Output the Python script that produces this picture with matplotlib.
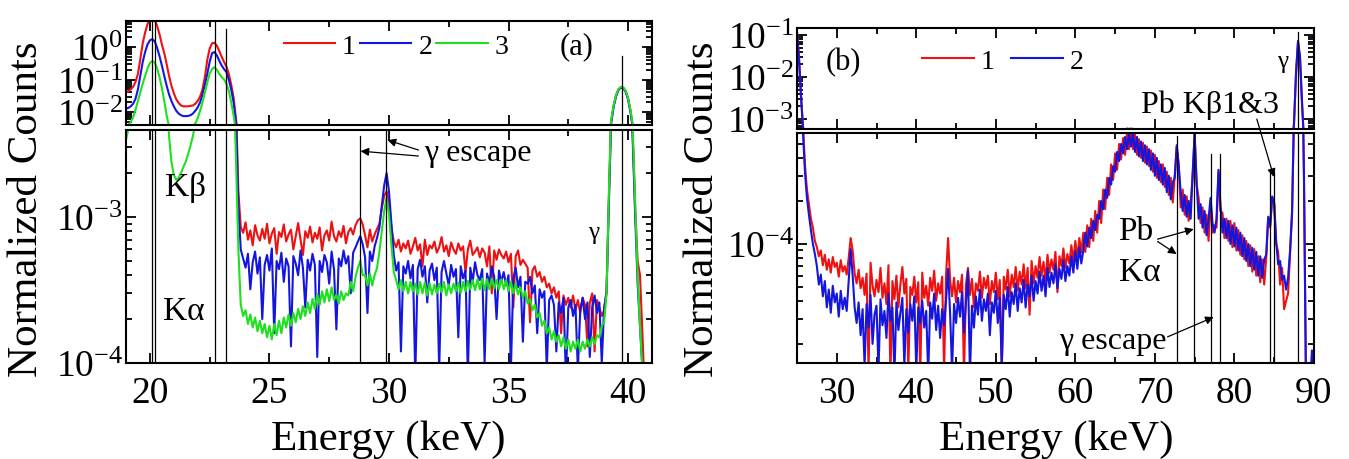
import matplotlib.pyplot as plt
import numpy as np
from matplotlib.ticker import LogLocator, NullFormatter, MultipleLocator, LogFormatterSciNotation

plt.rcParams['font.family'] = ['Liberation Serif', 'DejaVu Serif']
plt.rcParams['mathtext.fontset'] = 'stix'
plt.rcParams['axes.unicode_minus'] = False

# ---------------- panel (a): 19-41 keV, three spectra ----------------
energy_a = np.linspace(19.0, 41.0, 221)  # channel energies (keV)

counts_a1 = [
    0.041, 0.044, 0.05, 0.06, 0.085, 0.15, 0.43, 1.3, 2.8, 5.0,
    7.5, 8.5, 7.0, 4.5, 2.5, 1.2, 0.65, 0.3, 0.13, 0.065,
    0.038, 0.025, 0.019, 0.016, 0.015, 0.015, 0.015, 0.0155, 0.016, 0.018,
    0.022, 0.03, 0.05, 0.12, 0.4, 0.9, 1.3, 1.35, 1.1, 0.75,
    0.5, 0.35, 0.25, 0.15, 0.07, 0.028, 0.006, 0.0015,
    8.5e-4, 7.8e-4, 9.2e-4, 7.0e-4, 8.1e-4, 6.4e-4, 8.8e-4, 7.5e-4, 6.9e-4, 8.3e-4,
    7.1e-4, 9.0e-4, 6.6e-4, 7.7e-4, 8.4e-4, 5.6e-4, 7.9e-4, 7.3e-4, 8.9e-4, 6.8e-4,
    7.6e-4, 8.2e-4, 6.0e-4, 7.4e-4, 9.1e-4, 7.0e-4, 5.5e-4, 8.0e-4, 7.2e-4, 8.6e-4,
    6.7e-4, 7.8e-4, 7.1e-4, 8.5e-4, 5.9e-4, 7.5e-4, 8.1e-4, 6.9e-4, 9.3e-4, 7.4e-4,
    6.8e-4, 8.0e-4, 7.3e-4, 8.7e-4, 6.6e-4, 7.9e-4, 8.4e-4, 7.6e-4, 8.8e-4, 9.5e-4,
    9.8e-4, 8.9e-4, 7.5e-4, 6.2e-4, 8.2e-4, 6.8e-4, 7.6e-4, 8.3e-4, 9.0e-4, 1.15e-3,
    1.4e-3, 1.5e-3, 1.25e-3, 8.5e-4, 6.8e-4, 6.2e-4, 7.0e-4, 5.8e-4, 6.6e-4, 6.1e-4,
    6.9e-4, 5.6e-4, 6.3e-4, 7.2e-4, 5.9e-4, 6.5e-4, 4.6e-4, 7.0e-4, 5.5e-4, 6.4e-4,
    6.1e-4, 6.8e-4, 5.7e-4, 6.2e-4, 7.3e-4, 5.8e-4, 6.4e-4, 5.4e-4, 6.7e-4, 6.0e-4,
    5.6e-4, 6.6e-4, 5.9e-4, 6.3e-4, 4.2e-4, 6.0e-4, 6.9e-4, 5.5e-4, 5.8e-4, 6.2e-4,
    5.3e-4, 6.1e-4, 5.7e-4, 4.6e-4, 6.3e-4, 3.0e-4, 5.9e-4, 5.1e-4, 6.0e-4, 5.5e-4,
    5.2e-4, 5.8e-4, 4.9e-4, 5.6e-4, 2.4e-4, 5.4e-4, 5.9e-4, 4.7e-4, 5.1e-4, 4.8e-4,
    4.5e-4, 1.9e-4, 4.3e-4, 4.6e-4, 3.9e-4, 4.2e-4, 3.6e-4, 3.9e-4, 3.3e-4, 3.5e-4,
    3.0e-4, 3.3e-4, 2.8e-4, 3.1e-4, 1.6e-4, 2.9e-4, 2.5e-4, 2.8e-4, 2.4e-4, 2.9e-4,
    2.3e-4, 2.7e-4, 2.2e-4, 2.8e-4, 2.5e-4, 1.3e-4, 2.6e-4, 3.0e-4, 1.2e-4, 2.7e-4,
    2.4e-4, 2.1e-4, 2.3e-4, 3.2e-4,
    1.4e-3, 5.5e-3, 0.016, 0.033, 0.05, 0.058, 0.056, 0.044, 0.026, 0.011,
    3.5e-3, 1.1e-3, 5.0e-4, 4.0e-4, 1.6e-4, 6e-5, 5e-5, 4e-5, 4e-5,
]

counts_a2 = [
    0.0125, 0.0135, 0.015, 0.018, 0.026, 0.05, 0.13, 0.35, 0.7, 1.2,
    1.6, 1.75, 1.5, 0.95, 0.53, 0.27, 0.13, 0.065, 0.035, 0.022,
    0.015, 0.011, 0.009, 0.008, 0.0075, 0.0075, 0.0076, 0.008, 0.009, 0.011,
    0.014, 0.02, 0.035, 0.07, 0.15, 0.35, 0.65, 0.7, 0.55, 0.38,
    0.27, 0.21, 0.17, 0.1, 0.05, 0.02, 0.005, 0.0012,
    6.0e-4, 5.2e-4, 4.5e-4, 5.6e-4, 3.2e-4, 4.9e-4, 5.8e-4, 4.1e-4, 5.3e-4, 2.0e-4,
    4.7e-4, 5.5e-4, 4.3e-4, 6.1e-4, 1.6e-4, 5.0e-4, 4.4e-4, 5.7e-4, 3.6e-4, 5.2e-4,
    4.6e-4, 1.3e-4, 5.4e-4, 4.8e-4, 4.0e-4, 5.9e-4, 4.5e-4, 2.4e-4, 5.1e-4, 4.3e-4,
    5.6e-4, 4.7e-4, 1.1e-4, 5.0e-4, 4.2e-4, 5.5e-4, 4.9e-4, 3.5e-4, 5.8e-4, 4.4e-4,
    1.7e-4, 5.2e-4, 4.6e-4, 5.9e-4, 4.8e-4, 5.4e-4, 3.0e-4, 5.7e-4, 6.2e-4, 6.8e-4,
    7.4e-4, 6.5e-4, 5.3e-4, 2.2e-4, 5.8e-4, 5.0e-4, 6.3e-4, 7.2e-4, 8.5e-4, 1.2e-3,
    1.65e-3, 2.0e-3, 1.5e-3, 9.0e-4, 5.5e-4, 4.3e-4, 4.9e-4, 1.2e-4, 4.6e-4, 4.1e-4,
    5.0e-4, 3.8e-4, 4.7e-4, 0.8e-4, 4.4e-4, 5.1e-4, 3.9e-4, 4.6e-4, 2.6e-4, 4.3e-4,
    4.8e-4, 3.7e-4, 4.5e-4, 0.9e-4, 4.2e-4, 5.0e-4, 4.1e-4, 3.4e-4, 4.7e-4, 3.9e-4,
    4.4e-4, 1.5e-4, 4.6e-4, 3.8e-4, 4.3e-4, 0.8e-4, 4.5e-4, 3.6e-4, 4.9e-4, 4.0e-4,
    3.7e-4, 4.4e-4, 1.0e-4, 4.1e-4, 3.5e-4, 4.6e-4, 3.9e-4, 2.0e-4, 4.3e-4, 3.6e-4,
    4.2e-4, 3.4e-4, 4.0e-4, 0.9e-4, 3.8e-4, 4.5e-4, 3.3e-4, 3.9e-4, 1.4e-4, 3.6e-4,
    3.5e-4, 3.9e-4, 3.0e-4, 3.4e-4, 1.6e-4, 3.2e-4, 2.8e-4, 3.1e-4, 0.9e-4, 2.7e-4,
    2.9e-4, 2.5e-4, 1.2e-4, 2.6e-4, 2.2e-4, 2.8e-4, 0.8e-4, 2.4e-4, 2.7e-4, 2.1e-4,
    2.5e-4, 0.9e-4, 2.3e-4, 2.8e-4, 2.0e-4, 2.6e-4, 1.1e-4, 2.4e-4, 2.9e-4, 2.2e-4,
    2.6e-4, 1.0e-4, 2.4e-4, 3.0e-4,
    1.3e-3, 5.0e-3, 0.015, 0.031, 0.048, 0.056, 0.054, 0.042, 0.025, 0.010,
    3.2e-3, 1.0e-3, 3.5e-4, 1.8e-4, 9e-5, 5e-5, 4e-5, 3.5e-5, 3.5e-5,
]

counts_a3 = [
    3.4e-3, 4.0e-3, 5.0e-3, 7.0e-3, 0.012, 0.022, 0.04, 0.075, 0.13, 0.22,
    0.32, 0.37, 0.33, 0.22, 0.12, 0.055, 0.022, 8.0e-3, 3.6e-3, 2.4e-3,
    1.95e-3, 1.8e-3, 1.85e-3, 2.0e-3, 2.2e-3, 2.4e-3, 2.7e-3, 3.1e-3, 3.6e-3, 4.5e-3,
    6.5e-3, 0.011, 0.02, 0.04, 0.08, 0.15, 0.21, 0.24, 0.2, 0.15,
    0.12, 0.1, 0.075, 0.045, 0.02, 8.0e-3, 2.5e-3, 6.0e-4,
    2.5e-4, 2.1e-4, 2.3e-4, 1.85e-4, 2.15e-4, 1.75e-4, 2.05e-4, 1.65e-4, 1.95e-4, 1.6e-4,
    1.85e-4, 1.5e-4, 1.8e-4, 1.45e-4, 1.85e-4, 1.55e-4, 1.95e-4, 1.6e-4, 2.05e-4, 1.75e-4,
    2.15e-4, 1.8e-4, 2.2e-4, 1.9e-4, 2.35e-4, 2.0e-4, 2.45e-4, 2.1e-4, 2.6e-4, 2.2e-4,
    2.75e-4, 2.35e-4, 2.95e-4, 2.5e-4, 3.1e-4, 2.6e-4, 3.2e-4, 2.65e-4, 3.3e-4, 2.7e-4,
    2.95e-4, 2.55e-4, 3.1e-4, 2.7e-4, 3.0e-4, 2.9e-4, 3.6e-4, 3.1e-4, 3.9e-4, 4.5e-4,
    5.0e-4, 4.0e-4, 4.0e-4, 3.4e-4, 4.1e-4, 3.4e-4, 4.0e-4, 4.5e-4, 5.8e-4, 8.0e-4,
    1.1e-3, 1.35e-3, 1.05e-3, 6.5e-4, 4.2e-4, 3.7e-4, 3.2e-4, 3.7e-4, 3.1e-4, 3.6e-4,
    3.0e-4, 3.6e-4, 3.1e-4, 3.5e-4, 2.95e-4, 3.6e-4, 3.0e-4, 3.55e-4, 2.9e-4, 3.5e-4,
    2.95e-4, 3.45e-4, 3.0e-4, 3.5e-4, 3.05e-4, 3.6e-4, 2.9e-4, 3.45e-4, 3.0e-4, 3.5e-4,
    3.1e-4, 3.55e-4, 3.0e-4, 3.6e-4, 3.1e-4, 3.65e-4, 3.2e-4, 3.7e-4, 3.15e-4, 3.75e-4,
    3.2e-4, 3.8e-4, 3.15e-4, 3.75e-4, 3.2e-4, 3.8e-4, 3.25e-4, 3.7e-4, 3.2e-4, 3.75e-4,
    3.2e-4, 3.7e-4, 3.1e-4, 3.6e-4, 3.0e-4, 3.5e-4, 2.95e-4, 3.3e-4, 2.8e-4, 3.1e-4,
    2.55e-4, 2.75e-4, 2.3e-4, 2.5e-4, 2.05e-4, 2.2e-4, 1.8e-4, 1.95e-4, 1.6e-4, 1.75e-4,
    1.45e-4, 1.65e-4, 1.4e-4, 1.55e-4, 1.3e-4, 1.5e-4, 1.25e-4, 1.45e-4, 1.2e-4, 1.4e-4,
    1.25e-4, 1.45e-4, 1.2e-4, 1.4e-4, 1.25e-4, 1.45e-4, 1.3e-4, 1.5e-4, 1.35e-4, 1.55e-4,
    1.5e-4, 1.8e-4, 1.9e-4, 3.0e-4,
    1.5e-3, 6.0e-3, 0.017, 0.034, 0.051, 0.059, 0.057, 0.045, 0.027, 0.012,
    3.8e-3, 1.2e-3, 4.0e-4, 1.8e-4, 9e-5, 5e-5, 4e-5, 4e-5, 4e-5,
]

# Rh K lines, gamma line and its Ge escape peaks (keV)
lines_a = [20.07, 20.22, 22.72, 23.17, 28.78, 29.88, 39.75]

# ---------------- panel (b): 25-90 keV, two spectra ----------------
energy_b = np.linspace(25.0, 90.0, 261)  # channel energies (keV)

counts_b1 = [
    0.12, 0.03, 4.0e-3, 7.0e-4, 3.6e-4, 2.4e-4, 1.9e-4, 1.5e-4,
    1.3e-4, 1.05e-4, 9.5e-5, 8.2e-5, 9.0e-5, 7.1e-5, 8.4e-5, 6.6e-5,
    7.8e-5, 6.3e-5, 8.1e-5, 6.9e-5, 7.4e-5, 5.9e-5, 7.7e-5, 6.4e-5,
    7.0e-5, 6.1e-5, 8.0e-5, 1.1e-4, 9.0e-5, 6.2e-5, 5.3e-5, 6.6e-5,
    4.9e-5, 5.8e-5, 4.4e-5, 6.2e-5, 1.3e-5, 7.4e-5, 5.1e-5, 4.3e-5,
    5.6e-5, 4.6e-5, 6.8e-5, 4.2e-5, 5.3e-5, 3.8e-5, 7.1e-5, 1.2e-5,
    5.5e-5, 4.1e-5, 6.0e-5, 3.6e-5, 5.2e-5, 6.9e-5, 4.5e-5, 5.7e-5,
    1.3e-5, 5.0e-5, 4.4e-5, 5.9e-5, 3.9e-5, 5.4e-5, 1.2e-5, 6.3e-5,
    4.2e-5, 5.1e-5, 3.7e-5, 5.8e-5, 4.7e-5, 6.5e-5, 4.0e-5, 5.3e-5,
    4.5e-5, 5.9e-5, 1.3e-5, 6.2e-5, 1.1e-4, 5.6e-5, 4.3e-5, 5.8e-5,
    3.9e-5, 5.5e-5, 4.6e-5, 6.1e-5, 1.2e-5, 5.2e-5, 6.8e-5, 4.4e-5,
    5.7e-5, 3.6e-5, 5.3e-5, 4.7e-5, 6.4e-5, 4.2e-5, 5.8e-5, 4.9e-5,
    6.0e-5, 3.8e-5, 5.5e-5, 4.6e-5, 6.3e-5, 4.1e-5, 5.6e-5, 1.3e-5,
    5.9e-5, 4.8e-5, 6.6e-5, 4.3e-5, 6.1e-5, 5.0e-5, 6.9e-5, 4.7e-5,
    6.4e-5, 5.2e-5, 7.2e-5, 4.9e-5, 6.8e-5, 3.2e-5, 7.6e-5, 5.3e-5,
    7.0e-5, 5.8e-5, 8.1e-5, 6.0e-5, 7.5e-5, 5.5e-5, 8.4e-5, 6.3e-5,
    7.8e-5, 6.6e-5, 8.8e-5, 4.6e-5, 8.2e-5, 7.0e-5, 9.3e-5, 6.8e-5,
    8.5e-5, 7.3e-5, 9.8e-5, 7.6e-5, 1.05e-4, 8.0e-5, 1.1e-4, 8.7e-5,
    1.2e-4, 8.8e-5, 1.35e-4, 9.5e-5, 1.5e-4, 1.05e-4, 1.7e-4, 1.2e-4,
    2.0e-4, 1.4e-4, 2.4e-4, 1.75e-4, 2.9e-4, 2.2e-4, 3.6e-4, 2.8e-4,
    4.3e-4, 3.3e-4, 5.0e-4, 3.9e-4, 5.5e-4, 4.2e-4, 6.0e-4, 4.6e-4,
    6.0e-4, 4.6e-4, 5.8e-4, 4.2e-4, 5.4e-4, 4.0e-4, 5.1e-4, 3.7e-4,
    4.8e-4, 3.5e-4, 4.5e-4, 3.2e-4, 4.2e-4, 2.9e-4, 3.8e-4, 2.7e-4,
    3.6e-4, 2.5e-4, 3.2e-4, 2.2e-4, 2.9e-4, 1.95e-4, 3.0e-4, 4.8e-4,
    3.6e-4, 1.8e-4, 2.4e-4, 1.6e-4, 2.15e-4, 1.45e-4, 1.95e-4, 3.0e-4,
    5.8e-4, 2.6e-4, 2.1e-4, 1.4e-4, 1.8e-4, 1.2e-4, 1.6e-4, 1.05e-4,
    2.0e-4, 1.2e-4, 1.35e-4, 1.3e-4, 3.2e-4, 1.7e-4, 1.65e-4, 1.1e-4,
    1.5e-4, 1.05e-4, 1.45e-4, 9.5e-5, 1.4e-4, 9.0e-5, 1.25e-4, 8.4e-5,
    1.15e-4, 7.8e-5, 1.05e-4, 7.0e-5, 9.8e-5, 6.4e-5, 9.2e-5, 6.0e-5,
    8.2e-5, 5.4e-5, 7.8e-5, 5.2e-5, 8.0e-5, 1.5e-4, 1.3e-4, 2.1e-4,
    1.9e-4, 1.0e-4, 8.8e-5, 5.2e-5, 6.8e-5, 3.5e-5, 4.0e-5, 4.5e-5,
    8.5e-5, 1.6e-4, 8.0e-4, 0.012, 0.07, 0.028, 2.4e-3, 2.8e-4,
    1.2e-5, 1.0e-5, 1.0e-5, 1.0e-5, 1.0e-5,
]

counts_b2 = [
    0.115, 0.028, 3.5e-3, 6.0e-4, 3.2e-4, 2.1e-4, 1.6e-4, 1.25e-4,
    1.0e-4, 8.5e-5, 7.0e-5, 5.2e-5, 6.1e-5, 4.3e-5, 5.5e-5, 3.6e-5,
    4.8e-5, 3.3e-5, 5.1e-5, 3.9e-5, 4.5e-5, 3.1e-5, 4.7e-5, 3.5e-5,
    4.2e-5, 3.4e-5, 5.5e-5, 9.2e-5, 6.0e-5, 3.6e-5, 2.8e-5, 3.9e-5,
    2.3e-5, 3.5e-5, 1.4e-5, 3.8e-5, 2.6e-5, 4.4e-5, 2.0e-5, 3.2e-5,
    3.7e-5, 1.3e-5, 4.1e-5, 2.7e-5, 3.4e-5, 2.2e-5, 4.5e-5, 2.9e-5,
    3.6e-5, 1.2e-5, 3.9e-5, 2.5e-5, 3.3e-5, 4.2e-5, 1.4e-5, 3.5e-5,
    2.4e-5, 3.8e-5, 2.9e-5, 4.3e-5, 1.3e-5, 3.6e-5, 2.8e-5, 4.0e-5,
    2.6e-5, 3.4e-5, 1.2e-5, 3.9e-5, 3.0e-5, 4.5e-5, 2.5e-5, 3.7e-5,
    2.2e-5, 3.5e-5, 2.7e-5, 4.1e-5, 6.7e-5, 3.3e-5, 1.3e-5, 3.8e-5,
    2.8e-5, 4.2e-5, 3.1e-5, 4.6e-5, 2.4e-5, 3.9e-5, 6.5e-5, 1.2e-5,
    3.7e-5, 2.6e-5, 4.3e-5, 3.2e-5, 4.8e-5, 2.9e-5, 4.1e-5, 3.4e-5,
    4.5e-5, 2.3e-5, 3.9e-5, 3.3e-5, 4.7e-5, 2.8e-5, 4.2e-5, 1.4e-5,
    4.4e-5, 3.5e-5, 5.0e-5, 3.1e-5, 4.6e-5, 3.8e-5, 5.3e-5, 3.4e-5,
    4.9e-5, 3.9e-5, 5.6e-5, 3.6e-5, 5.2e-5, 4.3e-5, 6.0e-5, 4.0e-5,
    5.5e-5, 4.5e-5, 6.4e-5, 4.7e-5, 6.0e-5, 4.3e-5, 6.8e-5, 5.0e-5,
    6.3e-5, 5.3e-5, 7.2e-5, 4.9e-5, 6.7e-5, 5.7e-5, 7.7e-5, 5.5e-5,
    7.0e-5, 6.0e-5, 8.2e-5, 6.3e-5, 8.9e-5, 6.7e-5, 9.5e-5, 7.3e-5,
    9.0e-5, 1.2e-4, 9.6e-5, 1.3e-4, 1.1e-4, 1.45e-4, 1.25e-4, 1.6e-4,
    1.5e-4, 2.0e-4, 1.75e-4, 2.4e-4, 2.1e-4, 2.9e-4, 2.6e-4, 3.5e-4,
    3.2e-4, 4.4e-4, 3.8e-4, 5.0e-4, 4.3e-4, 5.6e-4, 4.6e-4, 5.9e-4,
    4.8e-4, 5.9e-4, 4.4e-4, 5.6e-4, 4.1e-4, 5.2e-4, 3.8e-4, 4.9e-4,
    3.6e-4, 4.6e-4, 3.3e-4, 4.3e-4, 3.0e-4, 4.0e-4, 2.8e-4, 3.6e-4,
    2.6e-4, 3.4e-4, 2.3e-4, 3.0e-4, 2.05e-4, 2.7e-4, 2.9e-4, 4.9e-4,
    3.5e-4, 2.3e-4, 1.7e-4, 2.2e-4, 1.55e-4, 2.0e-4, 1.5e-4, 3.1e-4,
    5.9e-4, 2.7e-4, 1.5e-4, 1.9e-4, 1.3e-4, 1.7e-4, 1.15e-4, 1.5e-4,
    2.1e-4, 1.4e-4, 1.2e-4, 1.5e-4, 3.3e-4, 1.85e-4, 1.2e-4, 1.5e-4,
    1.1e-4, 1.45e-4, 1.0e-4, 1.35e-4, 9.6e-5, 1.3e-4, 9.0e-5, 1.2e-4,
    8.2e-5, 1.1e-4, 7.6e-5, 1.0e-4, 7.0e-5, 9.4e-5, 6.6e-5, 8.8e-5,
    6.0e-5, 8.2e-5, 5.8e-5, 7.8e-5, 8.4e-5, 1.55e-4, 1.35e-4, 2.15e-4,
    1.95e-4, 1.05e-4, 7.2e-5, 7.6e-5, 5.6e-5, 6.0e-5, 4.8e-5, 5.8e-5,
    9.0e-5, 1.7e-4, 8.5e-4, 0.013, 0.072, 0.03, 2.6e-3, 3.0e-4,
    1.0e-5, 1.0e-5, 1.0e-5, 1.8e-5, 1.0e-5,
]

# Pb K lines, gamma line and its Ge escape peaks (keV)
lines_b = [72.80, 74.97, 77.05, 78.14, 84.45, 84.94, 88.03]

RED, BLUE, GREEN = '#ee1111', '#1515e0', '#1fe01f'
TICK_FS, LABEL_FS = 27, 31
LW = 1.5

fig = plt.figure(figsize=(13.49, 4.6), dpi=100)
ax_aT = fig.add_axes([0.0934, 0.7261, 0.3899, 0.2261])
ax_aB = fig.add_axes([0.0934, 0.2087, 0.3899, 0.5065])
ax_bT = fig.add_axes([0.5908, 0.7174, 0.3832, 0.2196])
ax_bB = fig.add_axes([0.5908, 0.2087, 0.3832, 0.5000])


def style(ax, major, minor, show_x):
    ax.set_yscale('log')
    ax.xaxis.set_major_locator(MultipleLocator(major))
    ax.xaxis.set_minor_locator(MultipleLocator(minor))
    ax.yaxis.set_major_locator(LogLocator(base=10))
    ax.yaxis.set_minor_locator(LogLocator(base=10, subs=np.arange(2, 10)))
    ax.yaxis.set_major_formatter(LogFormatterSciNotation())
    ax.yaxis.set_minor_formatter(NullFormatter())
    ax.tick_params(which='both', direction='in', top=True, right=True,
                   width=1.3, labelsize=TICK_FS)
    ax.tick_params(which='major', length=7)
    ax.tick_params(which='minor', length=4)
    ax.tick_params(axis='y', pad=2)
    ax.tick_params(axis='x', pad=9, labelbottom=show_x)
    for sp in ax.spines.values():
        sp.set_linewidth(1.5)


# panel (a)
for ax in (ax_aT, ax_aB):
    ax.plot(energy_a, counts_a1, color=RED, lw=LW, label='1')
    ax.plot(energy_a, counts_a2, color=BLUE, lw=LW, label='2')
    ax.plot(energy_a, counts_a3, color=GREEN, lw=LW, label='3')
    ax.set_xlim(19.0, 41.0)
style(ax_aT, 5, 2.5, False)
style(ax_aB, 5, 2.5, True)
ax_aT.set_ylim(4.0e-3, 6.3)
ax_aB.set_ylim(1e-4, 3.95e-3)

lk = dict(color='k', lw=0.9, zorder=3)
for e in lines_a[:3]:
    ax_aT.axvline(e, **lk)
    ax_aB.axvline(e, **lk)
ax_aT.axvline(lines_a[3], ymax=0.923, **lk)
ax_aB.axvline(lines_a[3], **lk)
ax_aB.axvline(lines_a[4], ymax=0.974, **lk)
ax_aB.axvline(lines_a[5], **lk)
ax_aT.axvline(lines_a[6], ymax=0.66, **lk)
ax_aB.axvline(lines_a[6], **lk)

ax_aB.text(21.5, 1.63e-3, 'Kβ', fontsize=24, ha='center', va='center')
ax_aB.text(21.42, 2.28e-4, 'Kα', fontsize=24, ha='center', va='center')
ax_aB.text(31.45, 2.78e-3, 'γ escape', fontsize=23, ha='left', va='center')
ax_aB.text(38.55, 7.9e-4, 'γ', fontsize=18, ha='center', va='center')
arr = dict(arrowstyle='-|>', color='k', lw=0.9, mutation_scale=12,
           shrinkA=0, shrinkB=0)
ax_aB.annotate('', xy=(28.81, 2.83e-3), xytext=(31.23, 2.62e-3), arrowprops=arr)
ax_aB.annotate('', xy=(29.94, 3.37e-3), xytext=(31.23, 2.88e-3), arrowprops=arr)

fig.legend(handles=ax_aT.lines[:3], loc='center', ncol=3, frameon=False,
           bbox_to_anchor=(0.2936, 0.8978), fontsize=20, handlelength=1.85,
           handletextpad=0.25, columnspacing=0.15, borderaxespad=0)
fig.text(0.4277, 0.8978, '(a)', fontsize=22, ha='center', va='center')

# panel (b)
for ax in (ax_bT, ax_bB):
    ax.plot(energy_b, counts_b1, color=RED, lw=LW, label='1')
    ax.plot(energy_b, counts_b2, color=BLUE, lw=LW, label='2')
    ax.set_xlim(25, 90)
style(ax_bT, 10, 5, False)
style(ax_bB, 10, 5, True)
ax_bT.set_ylim(5.8e-4, 0.147)
ax_bB.set_ylim(1.47e-5, 5.97e-4)

ax_bB.axvline(lines_b[0], ymax=0.987, **lk)
ax_bB.axvline(lines_b[1], **lk)
for e in lines_b[2:4]:
    ax_bB.axvline(e, ymax=0.909, **lk)
for e in lines_b[4:6]:
    ax_bB.axvline(e, ymax=0.83, **lk)
ax_bB.axvline(lines_b[6], **lk)
ax_bT.axvline(lines_b[6], ymax=0.96, **lk)

ax_bT.text(76.9, 2.3e-3, 'Pb Kβ1&3', fontsize=23, ha='center', va='center')
ax_bT.text(86.1, 0.024, 'γ', fontsize=18, ha='center', va='center')
ax_bB.annotate('', xy=(84.96, 2.94e-4), xytext=(82.82, 1.0e-3),
               textcoords=ax_bT.transData, arrowprops=arr,
               annotation_clip=False)
ax_bB.text(67.6, 1.23e-4, 'Pb', fontsize=24, ha='center', va='center')
ax_bB.text(68.1, 6.4e-5, 'Kα', fontsize=24, ha='center', va='center')
ax_bB.annotate('', xy=(74.88, 1.27e-4), xytext=(70.34, 1.08e-4), arrowprops=arr)
ax_bB.annotate('', xy=(72.73, 8.5e-5), xytext=(70.34, 1.04e-4), arrowprops=arr)
ax_bB.text(64.7, 2.1e-5, 'γ escape', fontsize=23, ha='center', va='center')
ax_bB.annotate('', xy=(77.4, 3.08e-5), xytext=(71.6, 2.24e-5), arrowprops=arr)

fig.legend(handles=ax_bT.lines[:2], loc='center', ncol=2, frameon=False,
           bbox_to_anchor=(0.7435, 0.8652), fontsize=20, handlelength=1.85,
           handletextpad=0.25, columnspacing=0.6, borderaxespad=0)
fig.text(0.6249, 0.865, '(b)', fontsize=22, ha='center', va='center')

# axis titles
for x in (0.020, 0.521):
    fig.text(x, 0.545, 'Normalized Counts', fontsize=LABEL_FS, rotation=90,
             ha='center', va='center')
for x in (0.288, 0.783):
    fig.text(x, 0.022, 'Energy (keV)', fontsize=LABEL_FS, ha='center',
             va='baseline')

fig.savefig('out.png', dpi=100)
